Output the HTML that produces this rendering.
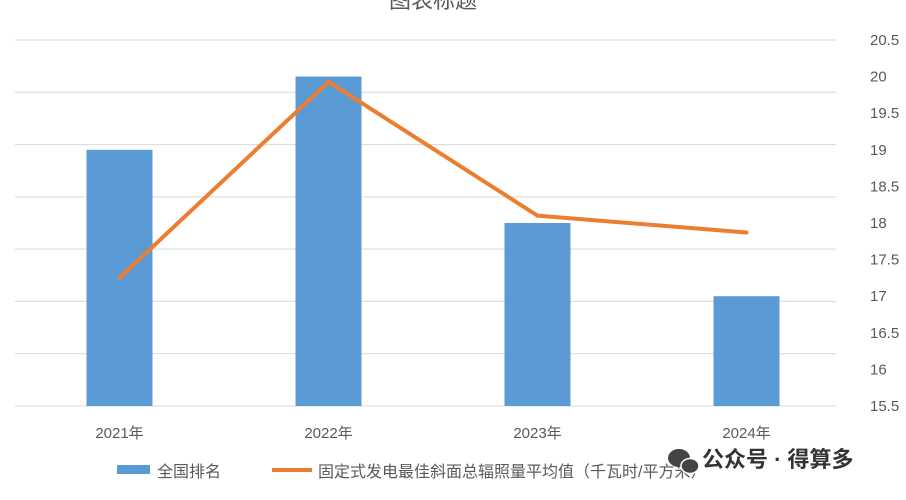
<!DOCTYPE html>
<html><head><meta charset="utf-8"><style>
body{margin:0;background:#fff;font-family:"Liberation Sans","Noto Sans CJK SC",sans-serif;}
svg text{font-family:"Liberation Sans","Noto Sans CJK SC",sans-serif;}
</style></head><body>
<svg id="c" width="906" height="495" xmlns="http://www.w3.org/2000/svg">
<text x="433" y="8" text-anchor="middle" font-size="22" fill="#595959">图表标题</text>
<g id="grid"></g><g id="bars"></g><g id="line"></g><g id="xl"></g><g id="yl"></g>
<g>
<rect x="117" y="465" width="33" height="9" fill="#5b9bd5"/>
<text x="157" y="477" font-size="16" fill="#595959">全国排名</text>
<line x1="272" y1="470" x2="312" y2="470" stroke="#ed7d31" stroke-width="4"/>
<text x="318" y="477" font-size="16" fill="#595959">固定式发电最佳斜面总辐照量平均值（千瓦时/平方米）</text>
</g>
<g>
<ellipse cx="679" cy="458" rx="11" ry="9" fill="#444"/><ellipse cx="690" cy="466" rx="9" ry="7.5" fill="#444" stroke="#fff" stroke-width="1.5"/>
<text x="702" y="467" font-size="22" font-weight="bold" fill="#333">公众号 · 得算多</text>
</g>
</svg>
<script>
const categories=["2021年","2022年","2023年","2024年"];
const barValues=[19,20,18,17];
const lineValues=[17.25,19.93,18.1,17.87];
const yTicks=[15.5,16,16.5,17,17.5,18,18.5,19,19.5,20,20.5];
const NS="http://www.w3.org/2000/svg";
const L=15,R=851,T=40,B=406,ymin=15.5,ymax=20.5;
const x=i=>L+(R-L)/categories.length*(i+0.5);
const y=v=>B-(v-ymin)/(ymax-ymin)*(B-T);
function mk(t,a,p){const e=document.createElementNS(NS,t);for(const k in a)e.setAttribute(k,a[k]);p.appendChild(e);return e;}
const g=document.getElementById('grid');
for(let i=0;i<=7;i++){const yy=T+(B-T)*i/7;
const l=mk('line',{x1:L,x2:836,y1:yy,y2:yy,stroke:'#d9d9d9','stroke-width':1},g);

}
const yl=document.getElementById('yl');
yTicks.forEach(v=>{const t=mk('text',{x:870,y:y(v)+5,'font-size':15,fill:'#595959'},yl);t.textContent=v;

});
const bg=document.getElementById('bars'),xl=document.getElementById('xl');
categories.forEach((c,i)=>{
const r=mk('rect',{x:x(i)-33,y:y(barValues[i]),width:66,height:B-y(barValues[i]),fill:'#5b9bd5'},bg);


const t=mk('text',{x:x(i),y:438,'text-anchor':'middle','font-size':15,fill:'#595959'},xl);t.textContent=c;

});
const p=mk('polyline',{points:lineValues.map((v,i)=>x(i)+','+y(v)).join(' '),fill:'none',stroke:'#ed7d31','stroke-width':4,'stroke-linejoin':'round','stroke-linecap':'round'},document.getElementById('line'));


</script>
</body></html>
